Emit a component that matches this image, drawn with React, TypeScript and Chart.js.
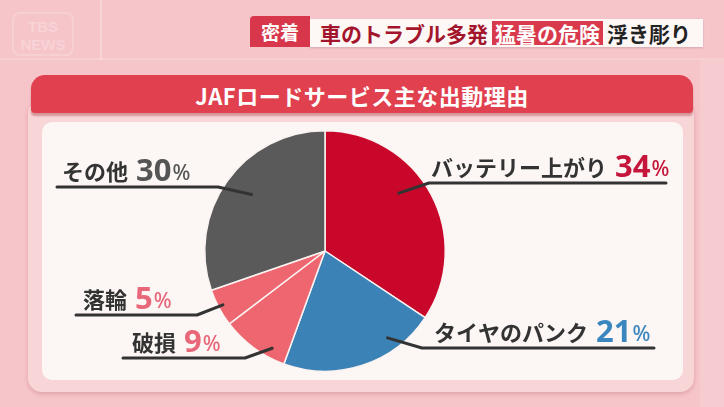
import React, { useEffect, useRef } from "react";
import { Chart, registerables } from "chart.js";

Chart.register(...registerables);

const categories = ["バッテリー上がり", "タイヤのパンク", "破損", "落輪", "その他"];
const values = [34, 21, 9, 5, 30];
const sliceColors = ["#c9072b", "#3b82b7", "#ee6670", "#ee6670", "#5a5a5a"];
const valueColors = ["#c5153a", "#3a86bf", "#e8687a", "#e8687a", "#555555"];

// label placement (screen layout only)
const labelLayout = [
  { tx: 431, uy: 183, x1: 429, x2: 666, side: "right", af: 0.42, rf: 0.78 },
  { tx: 434, uy: 348, x1: 422, x2: 654, side: "right", af: 0.27, rf: 0.89 },
  { tx: 132, uy: 358, x1: 123, x2: 245, side: "left", af: 0.26, rf: 0.92 },
  { tx: 83, uy: 315, x1: 76, x2: 197, side: "left", af: 0.52, rf: 0.96 },
  { tx: 62, uy: 187, x1: 57, x2: 218, side: "left", af: 0.52, rf: 0.77 },
];

const JP = "'Noto Sans CJK JP', 'Noto Sans', sans-serif";

const labelPlugin = {
  id: "calloutLabels",
  afterDatasetsDraw(chart: any) {
    const ctx = chart.ctx;
    const meta = chart.getDatasetMeta(0);
    ctx.save();
    meta.data.forEach((arc: any, i: number) => {
      const L = labelLayout[i];
      const p = arc.getProps(["x", "y", "startAngle", "endAngle", "outerRadius"], true);
      const a = p.startAngle + L.af * (p.endAngle - p.startAngle);
      const px = p.x + Math.cos(a) * p.outerRadius * L.rf;
      const py = p.y + Math.sin(a) * p.outerRadius * L.rf;
      ctx.strokeStyle = "#333333";
      ctx.lineWidth = 3;
      ctx.lineJoin = "round";
      ctx.lineCap = "round";
      ctx.beginPath();
      if (L.side === "right") {
        ctx.moveTo(L.x2, L.uy);
        ctx.lineTo(L.x1, L.uy);
      } else {
        ctx.moveTo(L.x1, L.uy);
        ctx.lineTo(L.x2, L.uy);
      }
      ctx.lineTo(px, py);
      ctx.stroke();

      const base = L.uy - 7;
      ctx.textBaseline = "alphabetic";
      ctx.textAlign = "left";
      ctx.fillStyle = "#333333";
      ctx.font = `bold 22px ${JP}`;
      ctx.fillText(categories[i], L.tx, base);
      let x = L.tx + ctx.measureText(categories[i]).width + 8;
      ctx.fillStyle = valueColors[i];
      ctx.font = `bold 31px 'Noto Sans', ${JP}`;
      const num = String(values[i]);
      ctx.fillText(num, x, base + 1);
      x += ctx.measureText(num).width + 1;
      ctx.font = `500 21px 'Noto Sans', ${JP}`;
      ctx.fillText("%", x, base);
    });
    ctx.restore();
  },
};

export default function App() {
  const ref = useRef<HTMLCanvasElement>(null);
  useEffect(() => {
    if (!ref.current) return;
    const chart = new Chart(ref.current, {
      type: "pie",
      data: {
        labels: categories,
        datasets: [
          {
            data: values,
            backgroundColor: sliceColors,
            borderColor: "#fbf3f1",
            borderWidth: 1.5,
          },
        ],
      },
      options: {
        responsive: false,
        animation: false,
        devicePixelRatio: 1,
        layout: { padding: { top: 130, bottom: 35, left: 204, right: 278 } },
        plugins: { legend: { display: false }, tooltip: { enabled: false } },
      },
      plugins: [labelPlugin],
    });
    return () => chart.destroy();
  }, []);

  return (
    <div
      style={{
        position: "fixed",
        left: 0,
        top: 0,
        width: 724,
        height: 407,
        overflow: "hidden",
        background: "#f6c5ca",
        fontFamily: JP,
      }}
    >
      {/* faint background grid */}
      <div style={{ position: "absolute", left: 100, top: 0, width: 2, height: 60, background: "rgba(255,255,255,0.25)" }} />
      <div style={{ position: "absolute", left: 0, top: 58, width: 724, height: 2, background: "rgba(255,255,255,0.18)" }} />
      <div style={{ position: "absolute", left: 700, top: 60, width: 24, height: 347, background: "rgba(255,255,255,0.12)" }} />
      {/* watermark */}
      <div
        style={{
          position: "absolute",
          left: 12,
          top: 12,
          width: 62,
          height: 44,
          border: "2px solid rgba(255,255,255,0.2)",
          borderRadius: 8,
          color: "rgba(255,255,255,0.25)",
          fontFamily: "'Liberation Sans', sans-serif",
          fontWeight: "bold",
          fontSize: 15,
          lineHeight: "18px",
          textAlign: "center",
          paddingTop: 4,
          boxSizing: "border-box",
        }}
      >
        TBS
        <br />
        NEWS
      </div>
      {/* top tag */}
      <div
        style={{
          position: "absolute",
          left: 310,
          top: 19,
          width: 393,
          height: 28,
          background: "#fdf8f6",
          boxShadow: "0 1px 2px rgba(0,0,0,0.15)",
          display: "flex",
          alignItems: "center",
          fontWeight: "bold",
          fontSize: 21,
          whiteSpace: "nowrap",
        }}
      >
        <span style={{ color: "#a3152d", marginLeft: 10 }}>車のトラブル多発</span>
        <span
          style={{
            background: "#d8394b",
            color: "#ffffff",
            padding: "0 3px",
            marginLeft: 4,
            lineHeight: "24px",
          }}
        >
          猛暑の危険
        </span>
        <span style={{ color: "#222222", marginLeft: 4 }}>浮き彫り</span>
      </div>
      <div
        style={{
          position: "absolute",
          left: 250,
          top: 16,
          width: 60,
          height: 31,
          background: "#d8364a",
          color: "#ffffff",
          fontWeight: "bold",
          fontSize: 19,
          lineHeight: "31px",
          textAlign: "center",
          borderRadius: "4px 0 0 0",
        }}
      >
        密着
      </div>
      {/* card */}
      <div
        style={{
          position: "absolute",
          left: 28,
          top: 100,
          width: 666,
          height: 292,
          borderRadius: 14,
          background: "#f8d6d8",
          boxShadow: "0 2px 4px rgba(160,60,70,0.25)",
        }}
      />
      <div
        style={{
          position: "absolute",
          left: 31,
          top: 75,
          width: 662,
          height: 38,
          borderRadius: "14px 14px 4px 4px",
          background: "#e1404f",
          color: "#ffffff",
          fontWeight: "bold",
          fontSize: 22,
          lineHeight: "40px",
          textAlign: "center",
          letterSpacing: 0.5,
          boxShadow: "0 3px 2px rgba(150,30,40,0.35)",
        }}
      >
        JAFロードサービス主な出動理由
      </div>
      <div
        style={{
          position: "absolute",
          left: 42,
          top: 122,
          width: 641,
          height: 258,
          borderRadius: 10,
          background: "#fcf7f5",
        }}
      />
      <canvas
        ref={ref}
        width={724}
        height={407}
        style={{ position: "absolute", left: 0, top: 0, width: 724, height: 407 }}
      />
    </div>
  );
}
